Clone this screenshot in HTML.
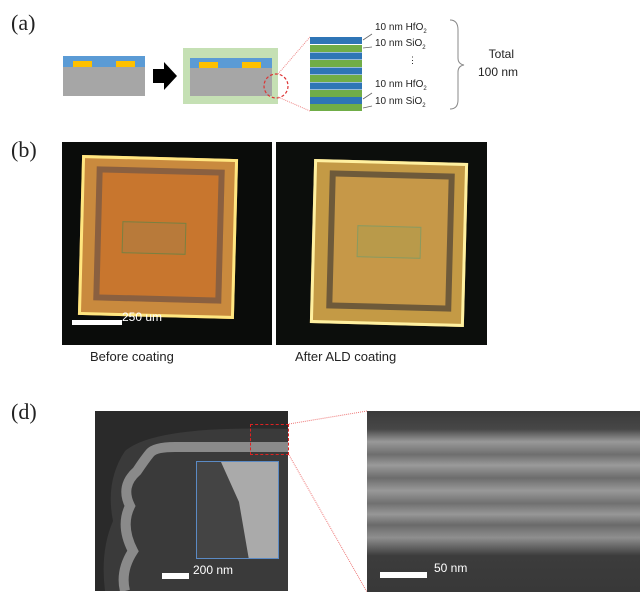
<!DOCTYPE html>
<html><head><style>
body{margin:0;width:640px;height:599px;background:#fff;position:relative;overflow:hidden;font-family:"Liberation Sans",sans-serif}
.a{position:absolute}
.lbl{position:absolute;font-family:"Liberation Serif",serif;font-size:22px;color:#222}
.t{position:absolute;font-size:9px;color:#222;white-space:nowrap}
</style></head><body>
<div class="lbl" style="left:11px;top:10px">(a)</div>
<div class="lbl" style="left:11px;top:137px">(b)</div>
<div class="lbl" style="left:11px;top:399px">(d)</div>

<!-- (a) -->
<div class="a" style="left:63px;top:56px;width:82px;height:40px;background:#a6a6a6"></div>
<div class="a" style="left:63px;top:56px;width:82px;height:11px;background:#5b9bd5"></div>
<div class="a" style="left:73px;top:61px;width:19px;height:6px;background:#ffc000"></div>
<div class="a" style="left:116px;top:61px;width:19px;height:6px;background:#ffc000"></div>
<svg class="a" style="left:150px;top:60px" width="30" height="32"><polygon points="3,9 14,9 14,2 27,16 14,30 14,23 3,23" fill="#000"/></svg>
<div class="a" style="left:183px;top:48px;width:95px;height:56px;background:#c5e0b4"></div>
<div class="a" style="left:190px;top:58px;width:82px;height:38px;background:#a6a6a6"></div>
<div class="a" style="left:190px;top:58px;width:82px;height:10px;background:#5b9bd5"></div>
<div class="a" style="left:199px;top:62px;width:19px;height:6px;background:#ffc000"></div>
<div class="a" style="left:242px;top:62px;width:19px;height:6px;background:#ffc000"></div>
<svg class="a" style="left:0;top:0" width="640" height="130">
<circle cx="276" cy="86" r="12" fill="none" stroke="#d33" stroke-width="1.2" stroke-dasharray="3,2"/>
<line x1="278" y1="74" x2="310" y2="37" stroke="#e88" stroke-dasharray="1,1"/>
<line x1="278" y1="97" x2="310" y2="111" stroke="#e88" stroke-dasharray="1,1"/>
<g>
<rect x="310" y="37" width="52" height="7" fill="#2e75b6"/><rect x="310" y="45" width="52" height="7" fill="#70ad47"/>
<rect x="310" y="52.5" width="52" height="7" fill="#2e75b6"/><rect x="310" y="60" width="52" height="7" fill="#70ad47"/>
<rect x="310" y="67.5" width="52" height="7" fill="#2e75b6"/><rect x="310" y="75" width="52" height="7" fill="#70ad47"/>
<rect x="310" y="82.5" width="52" height="7" fill="#2e75b6"/><rect x="310" y="90" width="52" height="7" fill="#70ad47"/>
<rect x="310" y="97" width="52" height="7" fill="#2e75b6"/><rect x="310" y="104" width="52" height="7" fill="#70ad47"/>
</g>
<g stroke="#666" stroke-width="0.8">
<line x1="363" y1="40" x2="372" y2="34"/><line x1="363" y1="48" x2="372" y2="47"/>
<line x1="363" y1="99" x2="372" y2="93"/><line x1="363" y1="108" x2="372" y2="106"/>
</g>
<path d="M450,20 Q458,20 458,30 L458,58 Q458,64 464,65 Q458,66 458,72 L458,100 Q458,109 450,109" fill="none" stroke="#888" stroke-width="1"/>
</svg>
<div class="t" style="left:375px;top:22px;font-size:10px">10 nm HfO<sub style="font-size:6px">2</sub></div>
<div class="t" style="left:375px;top:38px;font-size:10px">10 nm SiO<sub style="font-size:6px">2</sub></div>
<div class="t" style="left:408px;top:55px">⋮</div>
<div class="t" style="left:375px;top:79px;font-size:10px">10 nm HfO<sub style="font-size:6px">2</sub></div>
<div class="t" style="left:375px;top:96px;font-size:10px">10 nm SiO<sub style="font-size:6px">2</sub></div>
<div class="t" style="left:478px;top:45px;font-size:12px;text-align:center;line-height:18px">&nbsp;&nbsp;Total<br>100 nm</div>

<!-- (b) -->
<div class="a" style="left:62px;top:142px;width:210px;height:203px;background:#0a0c0a"></div>
<div class="a" style="left:276px;top:142px;width:211px;height:203px;background:#0c0e0c"></div>
<div class="a" style="left:80px;top:157px;width:156px;height:160px;background:#c98a3e;transform:rotate(1.5deg);border:3px solid #ffe680;box-sizing:border-box"></div>
<div class="a" style="left:95px;top:168px;width:128px;height:134px;background:#c8762e;transform:rotate(1.5deg);border:6px solid #8a6040;box-sizing:border-box"></div>
<div class="a" style="left:122px;top:222px;width:62px;height:30px;background:#b87a3a;border:1px solid #7a8040;transform:rotate(1.5deg)"></div>
<div class="a" style="left:72px;top:320px;width:50px;height:5px;background:#fff"></div>
<div class="t" style="left:122px;top:310px;font-size:12px;color:#fff">250 um</div>
<div class="a" style="left:312px;top:161px;width:154px;height:164px;background:#c49a45;transform:rotate(1.5deg);border:3px solid #fff0a0;box-sizing:border-box"></div>
<div class="a" style="left:328px;top:172px;width:125px;height:138px;background:#c69848;transform:rotate(1.5deg);border:6px solid #6e5a3a;box-sizing:border-box"></div>
<div class="a" style="left:357px;top:226px;width:62px;height:30px;background:#b99a4a;border:1px solid #8a9a60;transform:rotate(1.5deg)"></div>
<div class="t" style="left:90px;top:349px;font-size:13px">Before coating</div>
<div class="t" style="left:295px;top:349px;font-size:13px">After ALD coating</div>

<!-- (d) -->
<div class="a" style="left:95px;top:411px;width:193px;height:180px;background:#3a3a3a"></div>
<svg class="a" style="left:95px;top:411px" width="193" height="180">
<path d="M0,0 L193,0 L193,18 Q60,14 30,40 Q10,70 18,110 Q5,140 10,180 L0,180 Z" fill="#2a2a2a"/>
<path d="M30,180 Q25,160 38,140 Q25,115 35,95 Q25,75 42,60 Q50,48 55,42 Q60,36 80,36 L193,36" fill="none" stroke="#8a8a8a" stroke-width="10"/>
</svg>
<div class="a" style="left:196px;top:461px;width:83px;height:98px;background:#444;border:1px solid #5b8ac4;box-sizing:border-box;overflow:hidden">
<svg width="83" height="98"><polygon points="24,0 83,0 83,98 52,98 42,40" fill="#aaa"/></svg></div>
<div class="a" style="left:250px;top:424px;width:39px;height:31px;border:1.5px dashed #d22;box-sizing:border-box"></div>
<svg class="a" style="left:0;top:0" width="640" height="599"><line x1="289" y1="424" x2="367" y2="411" stroke="#e77" stroke-dasharray="1,1"/><line x1="289" y1="455" x2="367" y2="592" stroke="#e77" stroke-dasharray="1,1"/></svg>
<div class="a" style="left:162px;top:573px;width:27px;height:6px;background:#fff"></div>
<div class="t" style="left:193px;top:563px;font-size:12px;color:#fff">200 nm</div>
<div class="a" style="left:367px;top:411px;width:273px;height:181px;background:linear-gradient(#3a3a3a 0%,#474747 10%,#999 17%,#6e6e6e 24%,#9a9a9a 30%,#6c6c6c 37%,#999 44%,#707070 51%,#979797 57%,#6a6a6a 63%,#8f8f8f 70%,#3c3c3c 80%,#383838 100%)"></div>
<div class="a" style="left:380px;top:572px;width:47px;height:6px;background:#fff"></div>
<div class="t" style="left:434px;top:561px;font-size:12px;color:#fff">50 nm</div>
</body></html>
